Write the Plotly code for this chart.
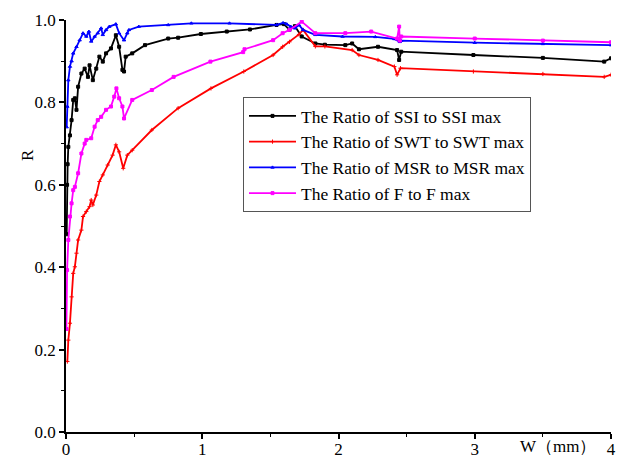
import plotly.graph_objects as go

# ---- data ----
ssi_w = [0.005, 0.008, 0.012, 0.017, 0.029, 0.041, 0.053, 0.065, 0.077, 0.089, 0.113, 0.137, 0.161, 0.173,
         0.197, 0.222, 0.245, 0.27, 0.294, 0.33, 0.366, 0.39, 0.414, 0.426, 0.438, 0.486, 0.58, 0.75, 0.823,
         0.99, 1.18, 1.35, 1.545, 1.6, 1.64, 1.68, 1.73, 1.83, 1.9, 2.05, 2.1, 2.15, 2.29, 2.43, 2.445, 2.46,
         2.99, 3.5, 3.95, 4.0]
ssi_r = [0.48, 0.6, 0.65, 0.692, 0.72, 0.757, 0.806, 0.81, 0.782, 0.838, 0.87, 0.882, 0.862, 0.89,
         0.854, 0.882, 0.911, 0.899, 0.919, 0.931, 0.963, 0.935, 0.879, 0.875, 0.911, 0.919, 0.939, 0.955, 0.957,
         0.966, 0.972, 0.977, 0.988, 0.99, 0.976, 0.985, 0.96, 0.943, 0.94, 0.939, 0.943, 0.929, 0.935, 0.927, 0.903, 0.923,
         0.915, 0.908, 0.899, 0.907]

swt_w = [0.01, 0.017, 0.029, 0.041, 0.053, 0.065, 0.077, 0.089, 0.113, 0.125, 0.149, 0.173, 0.185, 0.197,
         0.222, 0.245, 0.27, 0.306, 0.342, 0.366, 0.39, 0.42, 0.45, 0.486, 0.63, 0.823, 1.064, 1.305, 1.52,
         1.59, 1.64, 1.71, 1.74, 1.83, 1.9, 2.1, 2.15, 2.29, 2.41, 2.43, 2.455, 2.99, 3.5, 3.95, 4.0]
swt_r = [0.171, 0.223, 0.264, 0.328, 0.385, 0.401, 0.434, 0.466, 0.49, 0.523, 0.535, 0.547, 0.563, 0.551,
         0.575, 0.608, 0.624, 0.648, 0.672, 0.697, 0.68, 0.64, 0.672, 0.684, 0.733, 0.786, 0.834, 0.875, 0.915,
         0.935, 0.947, 0.965, 0.976, 0.936, 0.936, 0.927, 0.915, 0.903, 0.887, 0.867, 0.883, 0.875, 0.869, 0.862, 0.867]

msr_w = [0.005, 0.01, 0.017, 0.029, 0.041, 0.053, 0.077, 0.10, 0.125, 0.149, 0.168, 0.185, 0.21, 0.233,
         0.258, 0.27, 0.294, 0.318, 0.366, 0.39, 0.426, 0.45, 0.462, 0.534, 0.75, 0.92, 1.2, 1.545, 1.593,
         1.62, 1.65, 1.68, 1.71, 1.74, 1.83, 2.03, 2.27, 2.41, 2.45, 2.46, 3.0, 3.5, 4.0]
msr_r = [0.74, 0.79, 0.854, 0.887, 0.90, 0.919, 0.935, 0.951, 0.968, 0.96, 0.972, 0.948, 0.96, 0.968,
         0.98, 0.964, 0.976, 0.984, 0.99, 0.968, 0.951, 0.968, 0.976, 0.984, 0.988, 0.992, 0.992, 0.988, 0.993,
         0.99, 0.984, 0.98, 0.988, 0.976, 0.964, 0.96, 0.959, 0.954, 0.947, 0.95, 0.945, 0.942, 0.939]

f_w = [0.003, 0.008, 0.017, 0.029, 0.041, 0.053, 0.065, 0.089, 0.113, 0.137, 0.149, 0.185, 0.21, 0.233,
       0.258, 0.294, 0.33, 0.354, 0.37, 0.39, 0.414, 0.426, 0.486, 0.63, 0.79, 1.06, 1.30, 1.31, 1.52,
       1.59, 1.64, 1.73, 1.83, 2.05, 2.24, 2.43, 2.445, 2.45, 2.46, 3.0, 3.5, 4.0]
f_r = [0.25, 0.393, 0.466, 0.523, 0.555, 0.587, 0.595, 0.628, 0.676, 0.70, 0.709, 0.713, 0.741, 0.757,
       0.765, 0.782, 0.79, 0.814, 0.834, 0.81, 0.79, 0.761, 0.806, 0.83, 0.862, 0.899, 0.922, 0.929, 0.951,
       0.968, 0.976, 0.996, 0.968, 0.968, 0.972, 0.955, 0.984, 0.95, 0.96, 0.955, 0.95, 0.946]

series = [
    ("The Ratio of SSI to SSI max", ssi_w, ssi_r, "#000000", "square"),
    ("The Ratio of SWT to SWT max", swt_w, swt_r, "#ff0000", "cross-thin"),
    ("The Ratio of MSR to MSR max", msr_w, msr_r, "#0000ff", "triangle-up"),
    ("The Ratio of F to F max", f_w, f_r, "#ff00ff", "square"),
]

x_ticks = [0, 1, 2, 3, 4]
y_ticks = [0.0, 0.2, 0.4, 0.6, 0.8, 1.0]

FONT = "Liberation Serif, Times New Roman, serif"

# page body has an 8px default margin: size the figure so it fits in the visible window
OFF = 8
W_FIG, H_FIG = 624 - 2 * OFF, 461 - OFF
L, R_, T, B = 66 - OFF, 5, 20 - OFF, 29
PW = W_FIG - L - R_
PH = H_FIG - T - B

fig = go.Figure()
for name, w, r, col, sym in series:
    fig.add_trace(go.Scatter(
        x=w, y=r, name=name, mode="lines+markers",
        line=dict(color=col, width=1.8),
        marker=dict(color=col, size=3, symbol=sym, line=dict(color=col, width=1)),
    ))

fig.update_layout(
    width=W_FIG, height=H_FIG,
    margin=dict(l=L, r=R_, t=T, b=B, autoexpand=False),
    paper_bgcolor="white", plot_bgcolor="white",
    font=dict(family=FONT, size=17, color="black"),
    showlegend=True,
    legend=dict(
        x=(243 - 66) / PW, y=(432 - 97) / PH, xanchor="left", yanchor="top",
        bgcolor="white", bordercolor="#555555", borderwidth=1,
        font=dict(family=FONT, size=17.5, color="black"),
        itemwidth=47, tracegroupgap=0,
    ),
    xaxis=dict(
        range=[0, 4], tickvals=x_ticks, ticktext=[str(v) for v in x_ticks], automargin=False,
        ticklabeloverflow="allow", ticklabelstandoff=-4,
        showgrid=False, zeroline=False, showline=True, linecolor="black", linewidth=1.5,
        ticks="outside", ticklen=5, tickwidth=1.5, tickcolor="black",
        minor=dict(dtick=0.5, ticks="outside", ticklen=3, tickwidth=1.2, tickcolor="black", showgrid=False),
        tickfont=dict(family=FONT, size=17),
    ),
    yaxis=dict(
        range=[0, 1], tickvals=y_ticks, ticktext=[f"{v:.1f}" for v in y_ticks], automargin=False,
        ticklabeloverflow="allow",
        showgrid=False, zeroline=False, showline=True, linecolor="black", linewidth=1.5,
        ticks="outside", ticklen=5, tickwidth=1.5, tickcolor="black",
        minor=dict(dtick=0.1, ticks="outside", ticklen=3, tickwidth=1.2, tickcolor="black", showgrid=False),
        tickfont=dict(family=FONT, size=17),
    ),
    annotations=[
        dict(text="R", xref="paper", yref="paper", x=(27 - 66) / PW, y=(432 - 155) / PH,
             showarrow=False, textangle=-90, font=dict(family=FONT, size=17), xanchor="center", yanchor="middle"),
        dict(text="W（mm）", xref="paper", yref="paper", x=(558 - 66) / PW, y=-(446 - 432) / PH,
             showarrow=False, font=dict(family=FONT, size=17), xanchor="center", yanchor="middle"),
    ],
)

fig.write_html("out.html")
